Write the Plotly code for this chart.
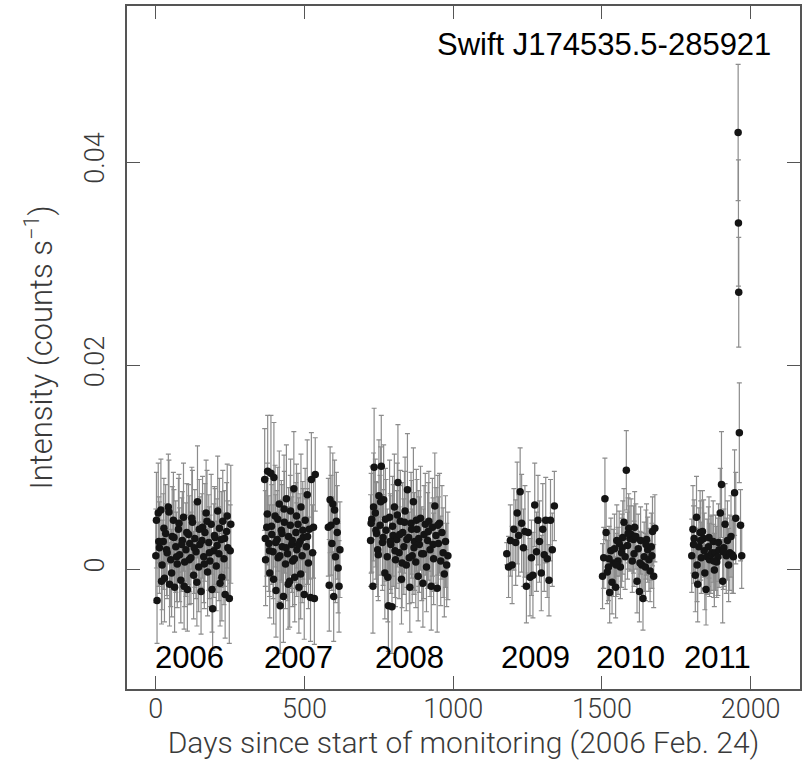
import plotly.graph_objects as go

# ---------------- data ----------------
days_2006 = [0, 4, 8, 12, 17, 21, 25, 29, 33, 38,
             42, 46, 50, 55, 59, 63, 67, 72, 76, 80,
             84, 89, 93, 97, 101, 106, 110, 114, 118, 123,
             127, 131, 135, 140, 144, 148, 152, 157, 161, 165,
             169, 174, 178, 182, 186, 191, 195, 199, 203, 208,
             212, 216, 220, 225, 229, 233, 238, 242, 247, 252,
             2, 10, 19, 27, 36, 44, 53, 61, 70, 78,
             87, 95, 104, 112, 121, 129, 138, 146, 155, 163,
             172, 180, 189, 197, 206, 214, 222, 231, 240, 250]
rate_2006 = [0.0013, -0.0031, 0.0055, 0.0021, 0.0058, 0.0004, 0.0027, -0.0009, 0.0035, 0.0016,
             0.0061, -0.0015, 0.0009, 0.0032, 0.0048, -0.0018, 0.0022, 0.0005, 0.0039, 0.0014,
             -0.0011, 0.0028, 0.0051, 0.0007, 0.0019, -0.0020, 0.0034, 0.0025, 0.0011, 0.0046,
             -0.0006, 0.0030, 0.0017, 0.0066, 0.0002, 0.0024, -0.0022, 0.0041, 0.0012, 0.0036,
             0.0055, -0.0003, 0.0026, 0.0008, 0.0044, -0.0039, 0.0018, 0.0031, 0.0003, 0.0057,
             0.0015, -0.0014, 0.0029, 0.0047, 0.0010, -0.0025, 0.0037, 0.0021, -0.0029, 0.0044,
             0.0048, 0.0027, -0.0012, 0.0040, 0.0019, 0.0056, -0.0004, 0.0031, 0.0012, 0.0045,
             0.0024, -0.0017, 0.0036, 0.0009, 0.0050, 0.0021, -0.0013, 0.0039, 0.0028, 0.0005,
             0.0047, 0.0016, -0.0020, 0.0033, 0.0023, 0.0040, -0.0008, 0.0030, 0.0052, 0.0018]
err_2006 = [0.0046, 0.0042, 0.0049, 0.0045, 0.0050, 0.0044, 0.0047, 0.0043, 0.0048, 0.0045,
            0.0052, 0.0041, 0.0046, 0.0049, 0.0047, 0.0044, 0.0045, 0.0043, 0.0050, 0.0046,
            0.0042, 0.0048, 0.0053, 0.0044, 0.0046, 0.0041, 0.0049, 0.0047, 0.0045, 0.0051,
            0.0043, 0.0048, 0.0046, 0.0055, 0.0044, 0.0047, 0.0042, 0.0050, 0.0045, 0.0048,
            0.0052, 0.0043, 0.0047, 0.0045, 0.0049, 0.0041, 0.0046, 0.0048, 0.0044, 0.0054,
            0.0046, 0.0042, 0.0047, 0.0050, 0.0045, 0.0043, 0.0048, 0.0046, 0.0044, 0.0058,
            0.0047, 0.0044, 0.0042, 0.0049, 0.0045, 0.0051, 0.0043, 0.0047, 0.0044, 0.0048,
            0.0046, 0.0042, 0.0048, 0.0044, 0.0050, 0.0045, 0.0043, 0.0049, 0.0046, 0.0044,
            0.0050, 0.0045, 0.0042, 0.0048, 0.0046, 0.0049, 0.0043, 0.0047, 0.0051, 0.0045]

days_2007 = [366, 369, 373, 376, 380, 383, 387, 390, 394, 397,
             401, 404, 408, 411, 415, 418, 422, 425, 429, 432,
             436, 439, 443, 446, 450, 453, 457, 460, 464, 467,
             471, 474, 478, 481, 485, 488, 492, 495, 499, 502,
             506, 509, 513, 516, 520, 523, 527, 530, 533, 536,
             580, 583, 586, 589, 592, 595, 598, 601, 604, 607, 610, 613, 616, 619,
             368, 375, 382, 389, 396, 403, 410, 417, 424, 431,
             438, 445, 452, 459, 466, 473, 480, 487, 494, 510]
rate_2007 = [0.0088, 0.0009, 0.0041, 0.0096, 0.0025, -0.0004, 0.0094, 0.0034, 0.0017, 0.0090,
             0.0052, -0.0021, 0.0029, 0.0011, 0.0064, -0.0036, 0.0038, 0.0022, -0.0027, 0.0046,
             0.0005, 0.0069, 0.0015, 0.0032, -0.0012, 0.0057, 0.0024, 0.0008, 0.0079, -0.0008,
             0.0036, 0.0019, 0.0044, -0.0018, 0.0027, 0.0061, 0.0013, 0.0031, -0.0025, 0.0048,
             0.0022, 0.0073, 0.0006, 0.0039, -0.0028, 0.0088, 0.0016, 0.0041, -0.0029, 0.0093,
             0.0041, -0.0016, 0.0068, 0.0043, 0.0025, 0.0064, -0.0027, 0.0058, 0.0012, 0.0047, 0.0036, 0.0001, -0.0017, 0.0019,
             0.0030, 0.0054, 0.0018, 0.0042, -0.0010, 0.0026, 0.0049, 0.0013, 0.0035, 0.0059,
             0.0021, -0.0015, 0.0043, 0.0028, 0.0010, 0.0052, 0.0024, -0.0005, 0.0038, 0.0032]
err_2007 = [0.0050, 0.0045, 0.0048, 0.0055, 0.0047, 0.0044, 0.0057, 0.0049, 0.0046, 0.0054,
            0.0050, 0.0046, 0.0048, 0.0045, 0.0052, 0.0047, 0.0049, 0.0046, 0.0045, 0.0050,
            0.0044, 0.0053, 0.0046, 0.0048, 0.0045, 0.0051, 0.0047, 0.0045, 0.0056, 0.0044,
            0.0049, 0.0046, 0.0050, 0.0045, 0.0047, 0.0052, 0.0046, 0.0048, 0.0044, 0.0051,
            0.0047, 0.0054, 0.0045, 0.0049, 0.0043, 0.0046, 0.0047, 0.0050, 0.0045, 0.0036,
            0.0048, 0.0045, 0.0052, 0.0049, 0.0046, 0.0050, 0.0044, 0.0049, 0.0045, 0.0048, 0.0046, 0.0044, 0.0045, 0.0047,
            0.0047, 0.0050, 0.0045, 0.0049, 0.0044, 0.0047, 0.0051, 0.0045, 0.0048, 0.0053,
            0.0046, 0.0044, 0.0049, 0.0047, 0.0045, 0.0051, 0.0046, 0.0044, 0.0048, 0.0047]

days_2008 = [722, 726, 730, 734, 738, 742, 746, 750, 754, 758,
             762, 766, 770, 774, 778, 782, 786, 790, 794, 798,
             802, 806, 810, 814, 818, 822, 826, 830, 834, 838,
             842, 846, 850, 854, 858, 862, 866, 870, 874, 878,
             882, 886, 890, 894, 898, 902, 906, 910, 914, 918,
             922, 926, 930, 934, 938, 942, 946, 950, 954, 958,
             962, 966, 970, 974, 978, 982,
             724, 732, 740, 748, 756, 764, 772, 780, 788, 796,
             804, 812, 820, 828, 836, 844, 852, 860, 868, 876,
             884, 900, 916, 932, 948]
rate_2008 = [0.0028, 0.0049, -0.0017, 0.0100, 0.0055, 0.0035, 0.0019, 0.0072, 0.0043, 0.0101,
             0.0026, 0.0068, -0.0004, 0.0038, 0.0012, -0.0036, 0.0051, 0.0024, -0.0037, 0.0033,
             0.0061, 0.0009, 0.0029, 0.0085, 0.0016, 0.0047, -0.0010, 0.0036, 0.0022, 0.0057,
             0.0004, 0.0078, 0.0031, -0.0018, 0.0045, 0.0013, 0.0066, 0.0027, 0.0007, 0.0039,
             -0.0007, 0.0024, 0.0050, 0.0015, -0.0014, 0.0034, 0.0044, 0.0002, 0.0028, 0.0047,
             0.0019, -0.0017, 0.0041, 0.0010, 0.0062, 0.0033, -0.0019, 0.0025, 0.0045, 0.0008,
             0.0036, 0.0016, -0.0005, 0.0027, 0.0004, 0.0013,
             0.0045, 0.0061, 0.0038, 0.0014, 0.0066, 0.0031, 0.0049, -0.0008, 0.0027, 0.0042,
             0.0018, 0.0053, 0.0034, 0.0006, 0.0046, 0.0029, 0.0011, 0.0039, 0.0021, 0.0048,
             0.0030, 0.0015, 0.0037, 0.0024, 0.0043]
err_2008 = [0.0045, 0.0052, 0.0046, 0.0058, 0.0053, 0.0050, 0.0046, 0.0055, 0.0049, 0.0050,
            0.0047, 0.0054, 0.0045, 0.0050, 0.0047, 0.0045, 0.0056, 0.0048, 0.0046, 0.0050,
            0.0052, 0.0046, 0.0048, 0.0057, 0.0045, 0.0050, 0.0044, 0.0049, 0.0047, 0.0053,
            0.0045, 0.0055, 0.0049, 0.0044, 0.0050, 0.0046, 0.0053, 0.0048, 0.0045, 0.0049,
            0.0044, 0.0047, 0.0051, 0.0046, 0.0043, 0.0048, 0.0050, 0.0044, 0.0047, 0.0049,
            0.0046, 0.0043, 0.0048, 0.0045, 0.0052, 0.0047, 0.0043, 0.0046, 0.0049, 0.0044,
            0.0046, 0.0044, 0.0042, 0.0045, 0.0041, 0.0043,
            0.0049, 0.0053, 0.0048, 0.0045, 0.0054, 0.0047, 0.0050, 0.0044, 0.0047, 0.0049,
            0.0046, 0.0051, 0.0048, 0.0044, 0.0050, 0.0047, 0.0045, 0.0048, 0.0046, 0.0050,
            0.0047, 0.0044, 0.0048, 0.0046, 0.0049]

days_2009 = [1180, 1186, 1192, 1198, 1204, 1210, 1215, 1220, 1225, 1230,
             1236, 1241, 1246, 1252, 1258, 1263, 1268, 1274, 1280, 1285,
             1290, 1296, 1301, 1306, 1311, 1316, 1322, 1327, 1333, 1340]
rate_2009 = [0.0015, 0.0002, 0.0028, 0.0004, 0.0039, 0.0026, 0.0055, 0.0033, 0.0076, 0.0045,
             0.0021, 0.0037, -0.0017, 0.0036, -0.0008, 0.0011, -0.0006, 0.0063, 0.0017, 0.0048,
             0.0027, -0.0004, 0.0039, 0.0014, 0.0048, 0.0010, -0.0011, 0.0048, 0.0019, 0.0062]
err_2009 = [0.0011, 0.0030, 0.0035, 0.0038, 0.0040, 0.0042, 0.0050, 0.0040, 0.0043, 0.0048,
            0.0038, 0.0045, 0.0036, 0.0040, 0.0038, 0.0037, 0.0042, 0.0041, 0.0039, 0.0044,
            0.0040, 0.0037, 0.0045, 0.0036, 0.0042, 0.0038, 0.0035, 0.0040, 0.0036, 0.0034]

days_2010 = [1502, 1506, 1510, 1514, 1518, 1522, 1526, 1530, 1534, 1538,
             1542, 1546, 1550, 1554, 1558, 1562, 1566, 1570, 1574, 1578,
             1582, 1586, 1590, 1594, 1598, 1602, 1606, 1610, 1614, 1618,
             1622, 1626, 1630, 1634, 1638, 1642, 1646, 1650, 1654, 1658,
             1662, 1666, 1670, 1674, 1678,
             1524, 1548, 1568, 1588, 1608, 1628, 1648, 1668]
rate_2010 = [-0.0007, 0.0011, 0.0069, 0.0036, -0.0003, 0.0002, -0.0023, 0.0018, -0.0013, 0.0006,
             0.0020, -0.0018, 0.0028, 0.0008, 0.0025, 0.0002, 0.0016, 0.0031, 0.0046, 0.0012,
             0.0097, 0.0023, 0.0040, 0.0030, 0.0034, 0.0008, 0.0029, 0.0041, 0.0032, -0.0012,
             0.0020, -0.0022, 0.0028, 0.0004, -0.0029, 0.0012, 0.0002, 0.0029, 0.0019, 0.0009,
             -0.0002, 0.0022, 0.0037, -0.0007, 0.0040,
             0.0010, 0.0004, 0.0021, 0.0035, 0.0015, 0.0006, 0.0024, 0.0013]
err_2010 = [0.0032, 0.0030, 0.0040, 0.0034, 0.0031, 0.0033, 0.0030, 0.0032, 0.0031, 0.0033,
            0.0034, 0.0030, 0.0035, 0.0033, 0.0032, 0.0031, 0.0034, 0.0036, 0.0033, 0.0032,
            0.0039, 0.0033, 0.0034, 0.0032, 0.0035, 0.0031, 0.0033, 0.0035, 0.0032, 0.0031,
            0.0034, 0.0030, 0.0033, 0.0032, 0.0031, 0.0034, 0.0033, 0.0035, 0.0032, 0.0031,
            0.0030, 0.0033, 0.0034, 0.0031, 0.0033,
            0.0032, 0.0031, 0.0033, 0.0035, 0.0032, 0.0031, 0.0034, 0.0032]

days_2011 = [1802, 1806, 1810, 1814, 1818, 1822, 1826, 1830, 1834, 1838,
             1842, 1846, 1850, 1854, 1858, 1862, 1866, 1870, 1874, 1878,
             1882, 1886, 1890, 1894, 1898, 1902, 1906, 1910, 1914, 1918,
             1922, 1926, 1930, 1934, 1938, 1942, 1946, 1950, 1966, 1970,
             1808, 1820, 1832, 1844, 1860, 1876, 1892, 1908,
             1958, 1959, 1960, 1962]
rate_2011 = [0.0013, 0.0039, 0.0030, -0.0006, 0.0051, -0.0015, 0.0022, 0.0036, 0.0011, 0.0037,
             0.0030, -0.0004, -0.0020, 0.0012, 0.0022, 0.0009, 0.0014, 0.0016, 0.0027, -0.0001,
             0.0016, 0.0007, 0.0012, 0.0019, 0.0055, 0.0083, -0.0012, 0.0021, 0.0044, 0.0013,
             0.0028, 0.0004, 0.0016, 0.0032, 0.0014, 0.0012, 0.0075, 0.0050, 0.0043, 0.0013,
             0.0024, 0.0004, 0.0028, 0.0018, 0.0031, 0.0008, 0.0026, 0.0017,
             0.0429, 0.0340, 0.0272, 0.0134]
err_2011 = [0.0036, 0.0043, 0.0038, 0.0036, 0.0040, 0.0037, 0.0038, 0.0041, 0.0035, 0.0040,
            0.0038, 0.0036, 0.0035, 0.0037, 0.0039, 0.0036, 0.0038, 0.0037, 0.0040, 0.0036,
            0.0037, 0.0035, 0.0038, 0.0037, 0.0044, 0.0052, 0.0041, 0.0038, 0.0040, 0.0037,
            0.0039, 0.0036, 0.0037, 0.0040, 0.0038, 0.0036, 0.0042, 0.0045, 0.0035, 0.0032,
            0.0038, 0.0036, 0.0039, 0.0037, 0.0040, 0.0036, 0.0038, 0.0037,
            0.0067, 0.0062, 0.0054, 0.0049]

year_labels = ["2006", "2007", "2008", "2009", "2010", "2011"]
year_label_days = [112, 480, 854, 1278, 1597, 1887]

x_ticks = [0, 500, 1000, 1500, 2000]
y_ticks = [0, 0.02, 0.04]
y_tick_text = ["0", "0.02", "0.04"]

# ---------------- figure ----------------
days = days_2006 + days_2007 + days_2008 + days_2009 + days_2010 + days_2011
rates = rate_2006 + rate_2007 + rate_2008 + rate_2009 + rate_2010 + rate_2011
errs = err_2006 + err_2007 + err_2008 + err_2009 + err_2010 + err_2011

fig = go.Figure()
fig.add_trace(go.Scatter(
    x=days, y=rates, mode="markers",
    marker=dict(color="#141414", size=7.5, line=dict(width=0)),
    error_y=dict(type="data", array=errs, visible=True,
                 color="#8c8c8c", thickness=1.2, width=2.5),
    showlegend=False,
))

light = dict(family="Roboto, Liberation Sans, sans-serif", color="#3a3a3a", weight=300)
tick_font = dict(light, size=27)

fig.update_layout(
    width=805, height=775,
    margin=dict(l=127, r=3, t=6, b=86),
    paper_bgcolor="white", plot_bgcolor="white",
    xaxis=dict(
        range=[-97, 2166], tickvals=x_ticks, ticks="inside", ticklen=13,
        tickwidth=1, tickcolor="#555", showline=True, linecolor="#555",
        linewidth=1.5, mirror="ticks", showgrid=False, zeroline=False,
        tickfont=tick_font, ticklabelstandoff=-5,
        title=dict(text="Days since start of monitoring (2006 Feb. 24)",
                   font=dict(light, size=30), standoff=8),
    ),
    yaxis=dict(
        range=[-0.01179, 0.05533], tickvals=y_ticks, ticktext=y_tick_text,
        ticks="inside", ticklen=13, tickwidth=1, tickcolor="#555",
        showline=True, linecolor="#555", linewidth=1.5, mirror="ticks",
        showgrid=False, zeroline=False, tickangle=-90,
        tickfont=tick_font, ticklabelstandoff=10,
        title=dict(text="Intensity (counts s<sup>\u22121</sup>)",
                   font=dict(light, size=31), standoff=18),
    ),
)

for lbl, d in zip(year_labels, year_label_days):
    fig.add_annotation(x=d, y=-0.00865, xref="x", yref="y", text=lbl,
                       showarrow=False,
                       font=dict(family="Liberation Sans, Arial, sans-serif",
                                 size=31, color="black"))

fig.add_annotation(x=0.96, y=0.943, xref="paper", yref="paper",
                   xanchor="right", yanchor="middle",
                   text="Swift J174535.5-285921", showarrow=False,
                   font=dict(family="Liberation Sans, Arial, sans-serif",
                             size=31, color="black"))

fig.write_html("out.html")
